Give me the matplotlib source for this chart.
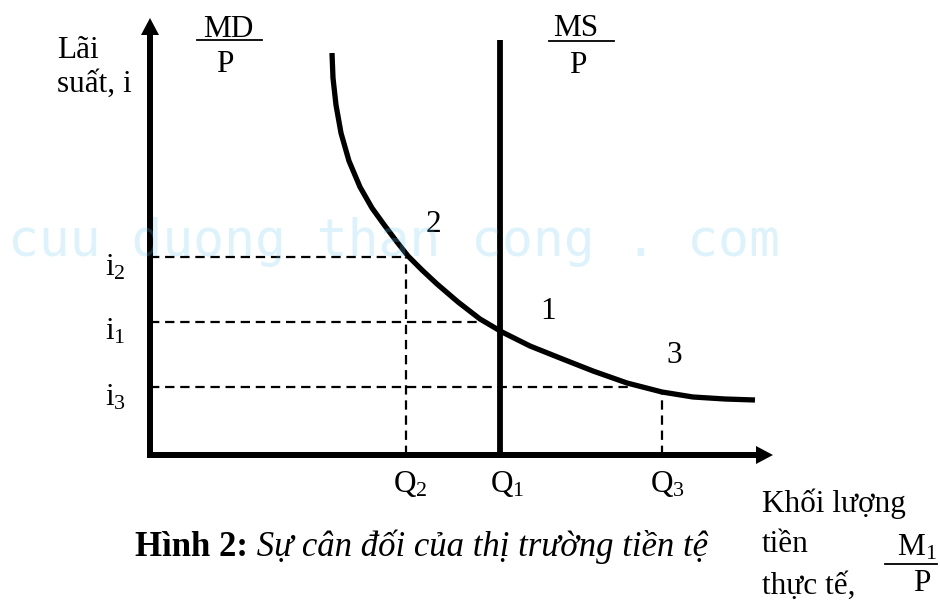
import matplotlib
matplotlib.use("Agg")
import matplotlib.pyplot as plt

# ---------------- data (abstract economic units, origin at axes corner) ----------------
q_labels = ["Q$_2$", "Q$_1$", "Q$_3$"]
q_values = [2.56, 3.50, 5.12]          # Q2, Q1, Q3
i_labels = ["i$_2$", "i$_1$", "i$_3$"]
i_values = [1.98, 1.33, 0.68]          # i2, i1, i3
i_line_ends = [2.56, 3.30, 4.82]       # where each dashed interest line meets MD
q_line_tops = [1.98, 0.00, 0.63]       # where each dashed quantity line meets MD
ms_top = 4.15                          # top of the vertical MS line

# money demand curve MD/P
md_q = [1.82, 1.83, 1.86, 1.91, 1.99, 2.10, 2.22, 2.35, 2.47, 2.58, 2.72, 2.87,
        3.08, 3.30, 3.52, 3.80, 4.10, 4.43, 4.77, 5.12, 5.43, 5.75, 6.05]
md_i = [4.02, 3.77, 3.50, 3.22, 2.94, 2.68, 2.47, 2.29, 2.13, 1.99, 1.85, 1.71,
        1.53, 1.36, 1.23, 1.09, 0.97, 0.84, 0.72, 0.63, 0.58, 0.56, 0.55]

point_labels = ["2", "1", "3"]

# ---------------- figure ----------------
plt.rcParams['font.family'] = ['Liberation Serif', 'DejaVu Serif']
plt.rcParams['mathtext.fontset'] = 'custom'
plt.rcParams['mathtext.rm'] = 'Liberation Serif'
plt.rcParams['mathtext.it'] = 'Liberation Serif:italic'

fig = plt.figure(figsize=(9.4, 6.13), dpi=100)
ax = fig.add_axes([0, 0, 1, 1])
ax.set_xlim(-1.50, 7.90)
ax.set_ylim(-1.58, 4.55)
ax.axis('off')


def P(xpx, ypx):
    """pixel position -> data position (for text placement only)"""
    return (xpx - 150) / 100.0, (455 - ypx) / 100.0


FS = 22.5
LW = 4.2

# axes with arrows
ax.arrow(0, -0.03, 0, 4.40, width=0.06, head_width=0.18, head_length=0.17,
         length_includes_head=True, color='black', lw=0, zorder=3)
ax.arrow(-0.03, 0, 6.26, 0, width=0.06, head_width=0.18, head_length=0.17,
         length_includes_head=True, color='black', lw=0, zorder=3)

# MS vertical line
ax.plot([q_values[1], q_values[1]], [0, ms_top], color='black', lw=LW,
        solid_capstyle='butt', zorder=3)

# MD curve
ax.plot(md_q, md_i, color='black', lw=3.8, solid_capstyle='butt',
        solid_joinstyle='round', zorder=3)

# dashed guide lines
dash = (0, (4.2, 2.6))
for iv, xe in zip(i_values, i_line_ends):
    ax.plot([0, xe], [iv, iv], color='black', lw=1.6, linestyle=dash, zorder=2)
for qv, yt in zip(q_values, q_line_tops):
    if yt > 0:
        ax.plot([qv, qv], [0, yt], color='black', lw=1.6, linestyle=dash, zorder=2)

# tick-like labels
for lab, yb in zip(i_labels, [275, 340, 405]):
    ax.text(*P(105, yb), lab, fontsize=FS, ha='left', va='baseline')
for lab, xl in zip(q_labels, [393, 490, 650]):
    ax.text(*P(xl, 492), lab, fontsize=FS, ha='left', va='baseline')

# point labels
for lab, (xl, yb) in zip(point_labels, [(426, 232), (540, 319), (666, 363)]):
    ax.text(*P(xl, yb), lab, fontsize=FS, ha='left', va='baseline')

# axis titles
ax.text(*P(57, 58), "Lãi", fontsize=FS, ha='left', va='baseline')
ax.text(*P(57, 92), "suất, i", fontsize=FS, ha='left', va='baseline')

# MD/P fraction
ax.text(*P(228, 37), "MD", fontsize=FS, ha='center', va='baseline')
x0, y0 = P(197, 40)
x1, _ = P(262, 40)
ax.plot([x0, x1], [y0, y0], color='black', lw=1.3)
ax.text(*P(225, 72), "P", fontsize=FS, ha='center', va='baseline')

# MS/P fraction
ax.text(*P(576, 36), "MS", fontsize=FS, ha='center', va='baseline')
x0, y0 = P(549, 40.5)
x1, _ = P(614, 40.5)
ax.plot([x0, x1], [y0, y0], color='black', lw=1.3)
ax.text(*P(578, 73), "P", fontsize=FS, ha='center', va='baseline')

# x-axis title
ax.text(*P(762, 512), "Khối lượng", fontsize=FS, ha='left', va='baseline')
ax.text(*P(762, 552), "tiền", fontsize=FS, ha='left', va='baseline')
ax.text(*P(897, 555), "M$_1$", fontsize=FS, ha='left', va='baseline')
x0, y0 = P(885, 564)
x1, _ = P(937, 564)
ax.plot([x0, x1], [y0, y0], color='black', lw=1.3)
ax.text(*P(913, 591), "P", fontsize=FS, ha='left', va='baseline')
ax.text(*P(762, 594), "thực tế,", fontsize=FS, ha='left', va='baseline')

# caption
FSC = 25
cx, cy = P(135, 556)
bold = ax.text(cx, cy, "Hình 2:", fontsize=FSC, fontweight='bold', ha='left', va='baseline')
ax.annotate(" Sự cân đối của thị trường tiền tệ", xy=(1, cy), xycoords=(bold, 'data'),
            fontsize=FSC, fontstyle='italic', ha='left', va='baseline')

# watermark
ax.text(*P(8, 256), "cuu duong than cong . com", fontsize=37,
        family='DejaVu Sans Mono', color=(0.40, 0.78, 0.93), alpha=0.22,
        ha='left', va='baseline', zorder=10)

fig.savefig("out.png", dpi=100)
